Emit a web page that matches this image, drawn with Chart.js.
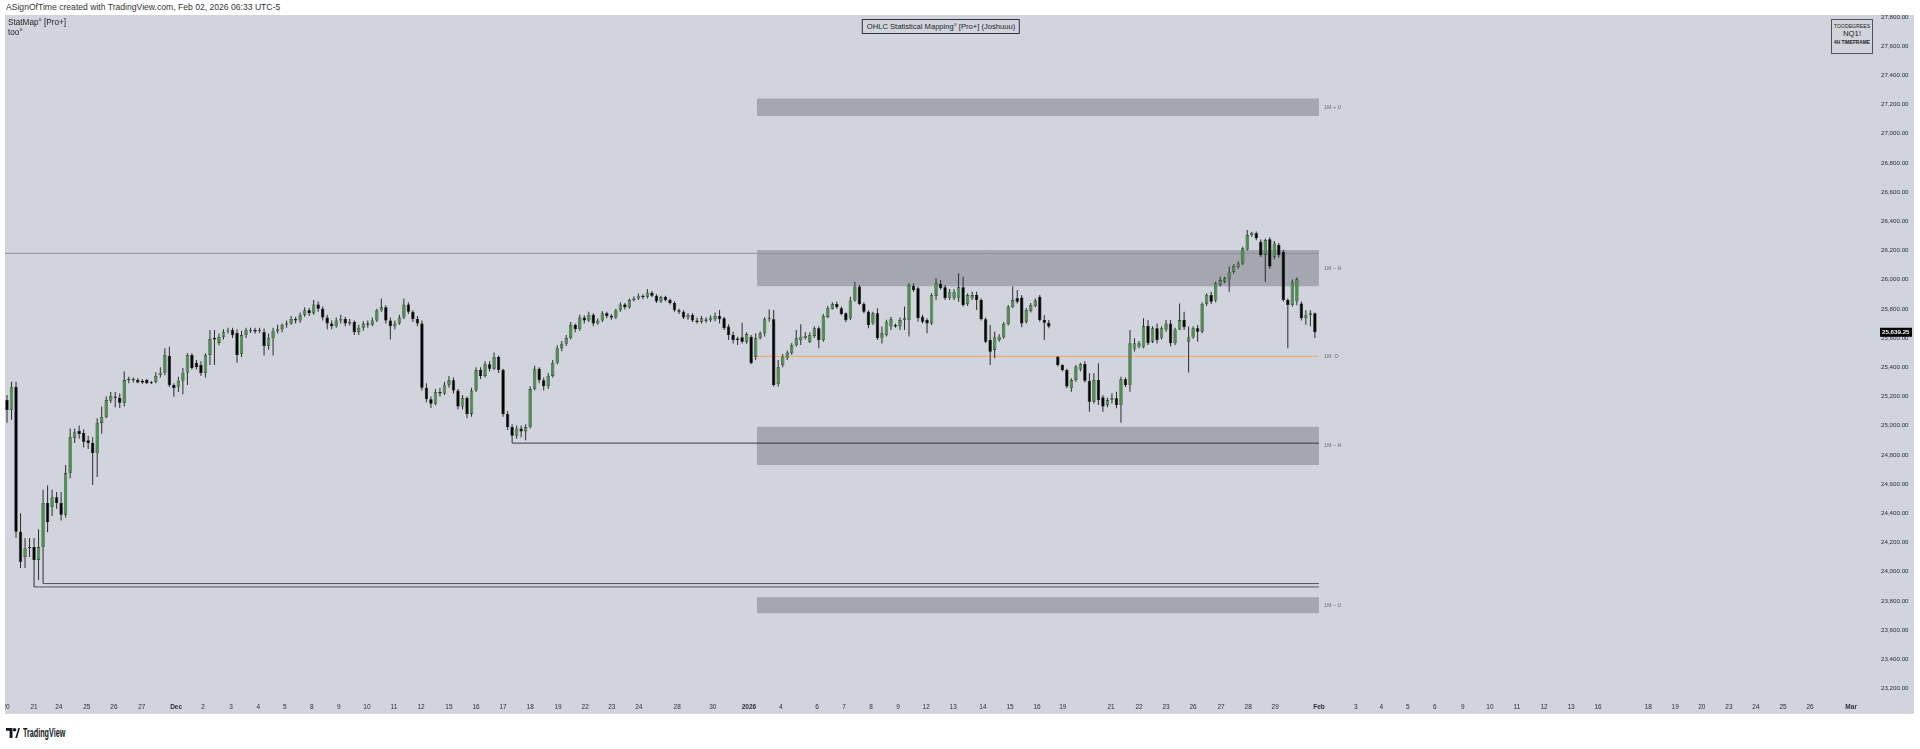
<!DOCTYPE html>
<html><head><meta charset="utf-8">
<script src="https://cdn.jsdelivr.net/npm/chart.js@4.4.1/dist/chart.umd.min.js"></script>
<style>
html,body{margin:0;padding:0;background:#fff;width:1920px;height:749px;overflow:hidden;font-family:"Liberation Sans",Arial,sans-serif;}
#hdr{position:absolute;left:6px;top:2px;font-size:8.6px;color:#333;white-space:nowrap;}
#panel{position:absolute;left:5px;top:15px;width:1909px;height:699px;background:#d1d4dc;overflow:hidden;}
#cv{position:absolute;left:0;top:0;}
#ind{position:absolute;left:8px;top:18px;font-size:8.2px;color:#222;line-height:10px;white-space:nowrap;}
#title{position:absolute;left:941px;top:19px;transform:translateX(-50%);border:1px solid #333;font-size:7.6px;color:#222;padding:0 4px;height:13px;line-height:13px;white-space:nowrap;background:#d1d4dc;}
#info{position:absolute;left:1831px;top:19px;width:40px;height:33px;border:1px solid #555;text-align:center;color:#222;background:#d1d4dc;}
#info .a{font-size:5.2px;margin-top:3px;line-height:6px;}
#info .b{font-size:7.8px;line-height:10px;}
#info .c{font-size:4.8px;font-weight:bold;line-height:8px;white-space:nowrap;}
#logo{position:absolute;left:6px;top:725px;height:15px;display:flex;align-items:center;color:#131722;}
#logo span{font-weight:bold;font-size:12px;margin-left:3px;display:inline-block;transform:scaleX(0.6);transform-origin:left center;}
</style></head>
<body>
<div id="hdr">ASignOfTime created with TradingView.com, Feb 02, 2026 06:33 UTC-5</div>
<div id="panel"><canvas id="cv" width="1909" height="699"></canvas></div>
<div id="ind">StatMap° [Pro+]<br>too°</div>
<div id="title">OHLC Statistical Mapping° [Pro+] (Joshuuu)</div>
<div id="info"><div class="a">TOODEGREES</div><div class="b">NQ1!</div><div class="c">4H TIMEFRAME</div></div>
<div id="logo"><svg width="14" height="10" viewBox="0 0 14 10"><path d="M0 0h6.5v10H3.6V2.8H0z" fill="#131722"/><circle cx="8.6" cy="1.8" r="1.8" fill="#131722"/><path d="M9.2 10L12.4 0h1.6L11 10z" fill="#131722"/></svg><span>TradingView</span></div>
<script>
// ---- candle data (4H NQ1!), bar index 0 .. 290, null = gap ----
const opens = [
25175,25107,25266,24273,24100,24160,24168,24080,24168,24470,
24442,24510,24470,24390,24675,24915,24963,24950,24900,24880,
24810,25018,25059,25170,25200,25191,25157,25312,25312,25312,
25305,25312,25296,25298,25346,25362,25477,25278,25266,25307,
25362,25484,25430,25415,25360,25484,25600,25566,25607,25645,
25655,25634,25490,25620,25650,25655,25650,25641,25545,25600,
25650,25660,25690,25700,25730,25720,25760,25790,25770,25830,
25800,25740,25700,25680,25720,25730,25700,25710,25640,25670,
25700,25690,25720,25790,25810,25720,25680,25700,25740,25830,
25780,25730,25700,25260,25180,25150,25230,25220,25280,25310,
25240,25130,25190,25080,25240,25380,25340,25420,25390,25470,
25380,25080,24990,24930,24980,24960,24990,25250,25390,25310,
25270,25340,25430,25530,25560,25600,25690,25660,25740,25720,
25760,25700,25720,25770,25750,25740,25790,25830,25810,25860,
25870,25890,25880,25910,25890,25850,25880,25860,25840,25790,
25780,25740,25760,25720,
25712,25727,25723,25728,25751,25735,25678,25620,25597,25605,
25575,25609,25470,25598,25632,25728,25728,25285,25415,25461,
25495,25552,25586,25600,25575,25614,25666,25586,25744,25801,
25833,25803,25769,25735,25856,25952,25833,25780,25700,25769,
25598,25620,25678,25689,25678,25723,25723,25956,25940,25746,
25723,25700,25888,25970,25947,25872,25872,25872,25947,25833,
25872,25894,25860,25728,25586,25518,25586,25605,25696,25810,
25872,25878,25712,25787,25819,25883,25723,25705,
null,
25472,25415,25381,25255,25312,25385,25422,25308,25164,25312,
25194,25141,25175,25187,25141,25317,25278,25523,25541,25536,
25682,25575,25666,25598,25659,25700,25564,25659,25723,25575,
25605,25666,25643,25833,25895,25856,25963,25986,26002,26054,
26084,26111,26207,26305,26317,26260,26169,26276,26157,26237,
26191,25860,25826,25850,25837,25735,25760,25770];
const highs = [
25210,25300,25300,24400,24230,24230,24230,24290,24560,24590,
24560,24545,24545,24730,24980,24980,25000,24975,24930,24920,
25050,25130,25200,25230,25230,25220,25370,25335,25330,25325,
25320,25320,25305,25365,25400,25530,25540,25290,25335,25395,
25495,25495,25450,25440,25495,25655,25655,25630,25660,25670,
25670,25660,25650,25670,25670,25670,25670,25665,25630,25670,
25690,25700,25720,25750,25745,25775,25810,25805,25860,25850,
25815,25760,25720,25740,25760,25745,25730,25720,25690,25715,
25720,25740,25800,25870,25825,25740,25720,25760,25870,25845,
25790,25750,25720,25290,25200,25250,25260,25300,25340,25330,
25250,25210,25200,25260,25400,25400,25440,25440,25500,25480,
25390,25100,25010,25000,25000,25010,25270,25410,25400,25330,
25360,25450,25550,25580,25620,25710,25700,25760,25755,25780,
25770,25735,25785,25780,25765,25800,25845,25840,25870,25885,
25905,25900,25935,25920,25900,25890,25890,25870,25850,25800,
25790,25770,25770,25740,
25750,25740,25755,25775,25792,25745,25694,25643,25609,25705,
25640,25620,25632,25645,25742,25796,25792,25449,25490,25515,
25565,25655,25695,25640,25640,25680,25680,25765,25819,25845,
25850,25815,25775,25883,25986,25963,25845,25790,25780,25803,
25678,25725,25746,25700,25741,25815,25975,25975,25952,25760,
25735,25906,26009,25997,25963,25935,25935,26043,26020,25906,
25917,25917,25870,25740,25689,25643,25625,25710,25826,25952,
25929,25895,25805,25840,25870,25895,25757,25723,
null,
25477,25420,25390,25325,25415,25431,25440,25358,25358,25427,
25210,25190,25221,25232,25335,25330,25655,25598,25580,25735,
25723,25680,25700,25680,25723,25723,25670,25837,25780,25678,
25680,25689,25845,25906,25917,25986,26020,26020,26089,26105,
26125,26225,26340,26328,26330,26275,26282,26290,26265,26250,
26205,25870,26000,26015,25850,25790,25790,25775];
const lows = [
25020,25040,24230,24025,24025,24100,23895,23942,23918,24270,
24380,24430,24350,24370,24640,24880,24910,24850,24840,24593,
24648,24945,25050,25155,25125,25120,25130,25290,25295,25290,
25285,25285,25285,25290,25330,25345,25265,25198,25230,25215,
25278,25385,25385,25340,25330,25415,25415,25550,25590,25630,
25600,25430,25470,25600,25635,25630,25635,25480,25520,25480,
25630,25640,25670,25690,25700,25705,25745,25750,25760,25780,
25720,25660,25660,25670,25700,25680,25685,25620,25620,25650,
25670,25680,25710,25780,25700,25590,25660,25690,25730,25765,
25710,25680,25240,25160,25120,25140,25200,25210,25260,25220,
25110,25110,25050,25060,25230,25320,25330,25370,25380,25360,
25060,24970,24880,24910,24920,24900,24980,25240,25290,25240,
25250,25330,25420,25510,25545,25590,25640,25650,25700,25710,
25680,25690,25710,25735,25725,25730,25780,25795,25800,25850,
25860,25865,25870,25880,25840,25840,25850,25830,25780,25765,
25730,25725,25710,25700,
25700,25705,25710,25715,25700,25655,25586,25563,25552,25563,
25560,25420,25449,25590,25610,25712,25267,25267,25400,25450,
25485,25540,25552,25590,25565,25600,25529,25575,25735,25795,
25800,25755,25710,25723,25849,25826,25770,25666,25690,25586,
25563,25610,25655,25670,25655,25655,25610,25917,25712,25700,
25632,25689,25860,25933,25860,25860,25860,25849,25815,25820,
25860,25792,25720,25565,25415,25461,25575,25595,25685,25803,
25837,25673,25700,25775,25810,25712,25586,25666,
null,
25405,25370,25255,25232,25300,25370,25295,25095,25152,25141,
25095,25125,25152,25118,25020,25265,25232,25507,25530,25529,
25552,25565,25563,25590,25643,25541,25552,25655,25655,25363,
25595,25575,25632,25820,25833,25845,25952,25975,25917,26040,
26075,26100,26200,26294,26270,26155,25986,26075,26140,26150,
25850,25529,25815,25825,25720,25690,25680,25600];
const closes = [
25107,25266,24273,24068,24160,24168,24080,24168,24470,24340,
24510,24470,24390,24675,24920,24955,24942,24890,24880,24810,
25018,25059,25175,25203,25190,25157,25312,25315,25310,25296,
25296,25290,25290,25340,25362,25484,25278,25256,25307,25362,
25484,25395,25402,25360,25484,25593,25590,25607,25641,25650,
25620,25484,25620,25655,25655,25645,25652,25545,25600,25650,
25660,25690,25700,25730,25720,25760,25790,25770,25830,25800,
25740,25700,25680,25720,25730,25700,25710,25640,25670,25700,
25690,25720,25790,25810,25720,25680,25700,25740,25830,25780,
25730,25700,25260,25180,25150,25230,25220,25280,25310,25240,
25130,25190,25080,25240,25380,25340,25420,25390,25470,25380,
25080,24990,24930,24980,24960,24990,25250,25390,25310,25270,
25340,25430,25530,25560,25600,25690,25660,25740,25720,25760,
25700,25720,25770,25750,25740,25790,25830,25810,25860,25870,
25890,25880,25910,25890,25850,25880,25860,25840,25790,25780,
25740,25760,25720,25710,
25735,25718,25741,25751,25728,25666,25620,25586,25586,25575,
25627,25427,25598,25632,25728,25735,25278,25399,25472,25500,
25552,25598,25609,25614,25621,25666,25586,25751,25803,25833,
25810,25764,25723,25856,25952,25833,25780,25689,25769,25598,
25632,25712,25728,25678,25723,25735,25963,25929,25735,25712,
25700,25895,25975,25940,25872,25917,25917,25947,25826,25894,
25894,25860,25728,25575,25506,25609,25609,25696,25815,25860,
25849,25700,25792,25826,25856,25723,25705,25678,
null,
25415,25381,25267,25312,25404,25422,25308,25164,25312,25175,
25130,25175,25187,25141,25317,25278,25564,25564,25564,25682,
25564,25666,25586,25666,25700,25564,25659,25723,25673,25605,
25666,25643,25833,25895,25849,25975,25997,26009,26054,26093,
26111,26214,26305,26321,26283,26169,26271,26089,26248,26169,
25860,25826,25986,26002,25735,25760,25770,25639.25];

// ---- statistical zones (monthly, January) ----
const zoneStartBar = 166.3;   // month open bar
const zoneEndBar = 290.9;     // next month bar
const zoneTops =    [27240, 26203, 24992, 23825];
const zoneBottoms = [27120, 25955, 24730, 23715];
const zoneLabels =  ['1M + U', '1M − H', '1M − H', '1M − U'];
const monthOpen = 25474;
const monthOpenLabel = '1M  O';

// ---- horizontal levels ----
const levelPrices = [26180, 24880, 23918, 23895];
const levelStartBars = [-5, 112, 8, 6];
const levelColors = ['#8e9198', '#3a3a3a', '#505050', '#505050'];

// ---- axis ticks ----
const yTicks = [23200,23400,23600,23800,24000,24200,24400,24600,24800,25000,25200,25400,25600,25800,26000,26200,26400,26600,26800,27000,27200,27400,27600,27800];
const xTickPos = [-0.2,6.0,11.5,17.7,23.7,29.9,37.5,43.5,49.7,55.7,61.6,67.6,73.6,79.8,85.8,91.8,98.0,104.0,110.0,116.0,122.2,128.2,134.1,140.1,148.6,156.5,164.5,171.6,179.6,185.6,191.6,197.6,203.8,209.8,216.4,222.4,228.4,234.1,244.8,251.0,257.0,263.0,269.2,275.2,281.2,290.9,299.1,304.7,310.6,316.6,322.8,328.8,334.8,340.8,346.8,352.8,363.9,369.9,375.8,381.8,387.8,393.8,399.8,408.9];
const xTickLabels = ['20','21','24','25','26','27','Dec','2','3','4','5','8','9','10','11','12','15','16','17','18','19','22','23','24','28','30','2026','4','6','7','8','9','12','13','14','15','16','19','21','22','23','26','27','28','29','Feb','3','4','5','6','9','10','11','12','13','16','18','19','20','23','24','25','26','Mar'];
const boldLabels = ['Dec','2026','Feb','Mar'];

// ---- view ----
const X_MIN = -0.443, X_MAX = 413.75;
const Y_MIN = 23141.1, Y_MAX = 27812.3;

const GREEN = '#4d8f4e', BLACK = '#050505';
const wickData = [], bodyData = [], bodyColors = [], bodyBorders = [];
for (let i = 0; i < opens.length; i++) {
  if (opens[i] === null) continue;
  const o = opens[i], c = closes[i];
  wickData.push({x: i, y: [lows[i], highs[i]]});
  bodyData.push({x: i, y: [Math.min(o, c), Math.max(o, c)]});
  const up = c >= o;
  bodyColors.push(up ? GREEN : BLACK);
  bodyBorders.push(up ? '#263a27' : BLACK);
}

const datasets = [];
zoneTops.forEach((t, k) => {
  datasets.push({type: 'line', data: [{x: zoneStartBar, y: t}, {x: zoneEndBar, y: t}],
    borderWidth: 0, pointRadius: 0, fill: {value: zoneBottoms[k]},
    backgroundColor: 'rgb(164,167,175)', borderColor: 'rgba(0,0,0,0)', order: 20});
});
levelPrices.forEach((p, k) => {
  datasets.push({type: 'line', data: [{x: levelStartBars[k], y: p}, {x: zoneEndBar, y: p}],
    borderWidth: 1, pointRadius: 0, fill: false, borderColor: levelColors[k], order: 10});
});
datasets.push({type: 'line', data: [{x: zoneStartBar, y: monthOpen}, {x: zoneEndBar, y: monthOpen}],
  borderWidth: 1, pointRadius: 0, fill: false, borderColor: '#f2a760', order: 9});
datasets.push({type: 'bar', data: wickData, backgroundColor: '#2b2b2b', barThickness: 1,
  grouped: false, inflateAmount: 0, order: 2});
datasets.push({type: 'bar', data: bodyData, backgroundColor: bodyColors, borderColor: bodyBorders,
  borderWidth: 0.6, borderSkipped: false, barThickness: 3.4, minBarLength: 1, grouped: false,
  inflateAmount: 0, order: 1});

const fmt = v => v.toLocaleString('en-US', {minimumFractionDigits: 2, maximumFractionDigits: 2});

const overlay = {
  id: 'overlay',
  afterDatasetsDraw(chart) {
    const {ctx, scales: {x, y}} = chart;
    ctx.save();
    ctx.font = '5.4px "Liberation Sans", Arial';
    ctx.fillStyle = '#6b6e75';
    ctx.textBaseline = 'middle';
    const lx = x.getPixelForValue(zoneEndBar) + 5;
    zoneTops.forEach((t, k) => {
      ctx.fillText(zoneLabels[k], lx, y.getPixelForValue((t + zoneBottoms[k]) / 2));
    });
    ctx.fillText(monthOpenLabel, lx, y.getPixelForValue(monthOpen));
    ctx.restore();
  },
  afterDraw(chart) {
    const {ctx, chartArea, scales: {y}} = chart;
    const last = closes[closes.length - 1];
    const py = y.getPixelForValue(last);
    ctx.save();
    ctx.fillStyle = '#000';
    ctx.fillRect(chartArea.right + 7, py - 4.5, 32, 9);
    ctx.fillStyle = '#fff';
    ctx.font = 'bold 6.2px "Liberation Sans", Arial';
    ctx.textBaseline = 'middle';
    ctx.fillText(fmt(last), chartArea.right + 9, py + 0.3);
    ctx.restore();
  }
};

new Chart(document.getElementById('cv'), {
  type: 'bar',
  data: {datasets},
  options: {
    responsive: false, animation: false, devicePixelRatio: 1, events: [],
    layout: {padding: 0},
    plugins: {legend: {display: false}, tooltip: {enabled: false}},
    scales: {
      x: {type: 'linear', min: X_MIN, max: X_MAX, offset: false,
        grid: {display: false, drawTicks: false}, border: {display: false},
        afterBuildTicks: s => { s.ticks = xTickPos.map(v => ({value: v})); },
        afterFit: s => { s.height = 17; s.paddingLeft = 0; s.paddingRight = 0; },
        ticks: {autoSkip: false, maxRotation: 0, minRotation: 0, padding: 6, color: '#2a2e39',
          font: c => ({family: '"Liberation Sans Narrow","Liberation Sans",Arial', size: 6.5,
            weight: boldLabels.includes(xTickLabels[c.index]) ? 'bold' : 'normal'}),
          callback: (v, i) => xTickLabels[i]}},
      y: {position: 'right', min: Y_MIN, max: Y_MAX,
        grid: {display: false, drawTicks: false}, border: {display: false},
        afterBuildTicks: s => { s.ticks = yTicks.map(v => ({value: v})); },
        afterFit: s => { s.width = 41; s.paddingTop = 0; s.paddingBottom = 0; },
        ticks: {padding: 8, color: '#2a2e39', font: {family: '"Liberation Sans",Arial', size: 6.2},
          callback: v => fmt(v)}}
    }
  },
  plugins: [overlay]
});
</script>
</body></html>
